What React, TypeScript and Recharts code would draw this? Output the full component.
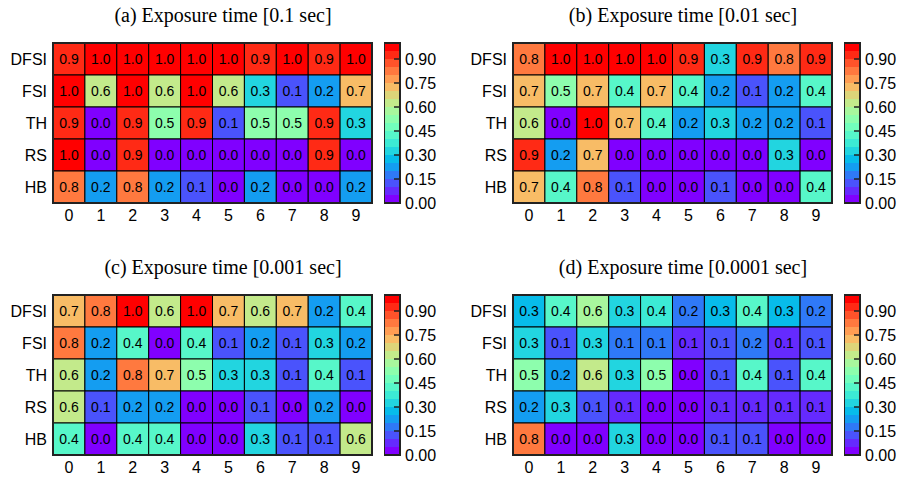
import React from "react";
import {
  ScatterChart,
  Scatter,
  BarChart,
  Bar,
  XAxis,
  YAxis,
  ReferenceArea,
} from "recharts";

const rowLabels = ["DFSI", "FSI", "TH", "RS", "HB"];
const colLabels = [0, 1, 2, 3, 4, 5, 6, 7, 8, 9];
const cbarTicks = [0, 0.15, 0.3, 0.45, 0.6, 0.75, 0.9];
const cbarEdges = [
  0, 0.05, 0.1, 0.15, 0.2, 0.25, 0.3, 0.35, 0.4, 0.45, 0.5, 0.55, 0.6, 0.65,
  0.7, 0.75, 0.8, 0.85, 0.9, 0.95, 1,
];

const titles = [
  "(a) Exposure time [0.1 sec]",
  "(b) Exposure time [0.01 sec]",
  "(c) Exposure time [0.001 sec]",
  "(d) Exposure time [0.0001 sec]",
];

// rows: DFSI, FSI, TH, RS, HB ; cols: 0..9
const valuesA = [
  [0.92, 0.97, 0.97, 0.97, 0.97, 0.97, 0.92, 0.97, 0.92, 0.97],
  [0.97, 0.62, 0.97, 0.62, 0.97, 0.62, 0.32, 0.12, 0.22, 0.72],
  [0.92, 0.02, 0.92, 0.52, 0.92, 0.12, 0.52, 0.52, 0.92, 0.32],
  [0.97, 0.02, 0.92, 0.02, 0.02, 0.02, 0.02, 0.02, 0.92, 0.02],
  [0.82, 0.22, 0.82, 0.22, 0.12, 0.02, 0.22, 0.02, 0.02, 0.22],
];
const valuesB = [
  [0.82, 0.97, 0.97, 0.97, 0.97, 0.92, 0.32, 0.92, 0.82, 0.92],
  [0.72, 0.52, 0.72, 0.42, 0.72, 0.42, 0.22, 0.12, 0.22, 0.42],
  [0.62, 0.02, 0.97, 0.72, 0.42, 0.22, 0.32, 0.22, 0.22, 0.12],
  [0.92, 0.22, 0.72, 0.02, 0.02, 0.02, 0.02, 0.02, 0.32, 0.02],
  [0.72, 0.42, 0.82, 0.12, 0.02, 0.02, 0.12, 0.02, 0.02, 0.42],
];
const valuesC = [
  [0.72, 0.82, 0.97, 0.62, 0.97, 0.72, 0.62, 0.72, 0.22, 0.42],
  [0.82, 0.22, 0.42, 0.02, 0.42, 0.12, 0.22, 0.12, 0.32, 0.22],
  [0.62, 0.22, 0.82, 0.72, 0.52, 0.32, 0.32, 0.12, 0.42, 0.12],
  [0.62, 0.12, 0.22, 0.22, 0.02, 0.02, 0.12, 0.02, 0.22, 0.02],
  [0.42, 0.02, 0.42, 0.42, 0.02, 0.02, 0.32, 0.12, 0.12, 0.62],
];
const valuesD = [
  [0.28, 0.42, 0.58, 0.32, 0.38, 0.18, 0.28, 0.42, 0.28, 0.18],
  [0.32, 0.12, 0.32, 0.15, 0.15, 0.07, 0.12, 0.18, 0.07, 0.12],
  [0.52, 0.22, 0.62, 0.32, 0.52, 0.02, 0.12, 0.42, 0.12, 0.42],
  [0.22, 0.32, 0.12, 0.07, 0.02, 0.02, 0.07, 0.07, 0.08, 0.07],
  [0.82, 0.02, 0.02, 0.32, 0.02, 0.02, 0.12, 0.12, 0.02, 0.02],
];

const SANS = '"Liberation Sans", Arial, Helvetica, sans-serif';
const SERIF = '"Liberation Serif", "Times New Roman", serif';

const HM_W = 380;
const HM_H = 230;
const HM_MARGIN = { top: 43, right: 8, bottom: 2, left: 0 };
const Y_AXIS_W = 53;
const X_AXIS_H = 25;
const PLOT_W = HM_W - HM_MARGIN.left - HM_MARGIN.right - Y_AXIS_W;
const PLOT_H = HM_H - HM_MARGIN.top - HM_MARGIN.bottom - X_AXIS_H;
const CELL_W = PLOT_W / colLabels.length;
const CELL_H = PLOT_H / rowLabels.length;
const CB_W = 66;
const CB_AXIS_W = 50;

// matplotlib "rainbow", cut into 20 levels
const NLEV = cbarEdges.length - 1;
function rainbow(t: number) {
  const cl = (v: number) => Math.max(0, Math.min(1, v));
  const r = cl(Math.abs(2 * t - 0.5));
  const g = cl(Math.sin(Math.PI * t));
  const b = cl(Math.cos((Math.PI * t) / 2));
  return `rgb(${Math.round(r * 255)},${Math.round(g * 255)},${Math.round(b * 255)})`;
}
const levelColor = (i: number) => rainbow(i / (NLEV - 1));
function valueColor(v: number) {
  const i = Math.max(0, Math.min(NLEV - 1, Math.floor(v * NLEV)));
  return levelColor(i);
}

function renderCell(props: any) {
  const { cx, cy, payload } = props;
  return (
    <g>
      <rect
        x={cx - CELL_W / 2}
        y={cy - CELL_H / 2}
        width={CELL_W}
        height={CELL_H}
        fill={valueColor(payload.v)}
        stroke="#000"
        strokeWidth={1}
      />
      <text
        x={cx}
        y={cy}
        dy="0.36em"
        textAnchor="middle"
        fontSize={14}
        fontFamily={SANS}
        fill="#000"
      >
        {payload.v.toFixed(1)}
      </text>
    </g>
  );
}

function Heatmap({ values, left, top }: { values: number[][]; left: number; top: number }) {
  const data = values.flatMap((row, r) => row.map((v, c) => ({ x: c, y: r, v })));
  const tickStyle = { fontSize: 16, fill: "#000", fontFamily: SANS };
  return (
    <div style={{ position: "absolute", left, top }}>
      <ScatterChart width={HM_W} height={HM_H} margin={HM_MARGIN}>
        <XAxis
          xAxisId="x"
          type="number"
          dataKey="x"
          domain={[-0.5, 9.5]}
          ticks={colLabels}
          interval={0}
          axisLine={false}
          tickLine={false}
          tickSize={0}
          tickMargin={7}
          height={X_AXIS_H}
          tick={tickStyle}
        />
        <YAxis
          yAxisId="y"
          type="number"
          dataKey="y"
          domain={[-0.5, 4.5]}
          reversed
          ticks={[0, 1, 2, 3, 4]}
          interval={0}
          tickFormatter={(i: number) => rowLabels[i]}
          axisLine={false}
          tickLine={false}
          tickSize={0}
          tickMargin={6}
          width={Y_AXIS_W}
          tick={tickStyle}
        />
        <Scatter
          xAxisId="x"
          yAxisId="y"
          data={data}
          shape={renderCell}
          isAnimationActive={false}
        />
        <ReferenceArea
          xAxisId="x"
          yAxisId="y"
          x1={-0.5}
          x2={9.5}
          y1={-0.5}
          y2={4.5}
          fill="none"
          fillOpacity={0}
          stroke="#222"
          strokeWidth={2}
          ifOverflow="visible"
          zIndex={2000}
        />
      </ScatterChart>
    </div>
  );
}

function CbarTick(props: any) {
  const { x, y, payload } = props;
  return (
    <g>
      <line x1={x - 11} x2={x - 5} y1={y} y2={y} stroke="#222" strokeWidth={1.5} />
      <text x={x} y={y} dy="0.36em" textAnchor="start" fontSize={16} fontFamily={SANS} fill="#000">
        {payload.value.toFixed(2)}
      </text>
    </g>
  );
}

function Colorbar({ left, top }: { left: number; top: number }) {
  const row: Record<string, any> = { name: "cb" };
  cbarEdges.slice(1).forEach((e, i) => {
    row["s" + i] = e - cbarEdges[i];
  });
  return (
    <div style={{ position: "absolute", left, top }}>
      <BarChart
        width={CB_W}
        height={HM_H}
        data={[row]}
        margin={{ top: 43, right: 0, bottom: 27, left: 0 }}
        barCategoryGap={0}
        barGap={0}
      >
        <XAxis xAxisId="x" dataKey="name" hide />
        <YAxis
          yAxisId="y"
          orientation="right"
          type="number"
          domain={[0, 1]}
          ticks={cbarTicks}
          interval={0}
          axisLine={false}
          tickLine={false}
          tickSize={0}
          tickMargin={5}
          width={CB_AXIS_W}
          tick={<CbarTick />}
        />
        {cbarEdges.slice(1).map((_, i) => (
          <Bar
            key={i}
            xAxisId="x"
            yAxisId="y"
            dataKey={"s" + i}
            stackId="cb"
            fill={levelColor(i)}
            isAnimationActive={false}
          />
        ))}
        <ReferenceArea
          xAxisId="x"
          yAxisId="y"
          x1="cb"
          x2="cb"
          y1={0}
          y2={1}
          fill="none"
          fillOpacity={0}
          stroke="#222"
          strokeWidth={2}
          ifOverflow="visible"
          zIndex={2000}
        />
      </BarChart>
    </div>
  );
}

function Title({ text, left, top }: { text: string; left: number; top: number }) {
  return (
    <div
      style={{
        position: "absolute",
        left,
        top,
        width: 440,
        height: 24,
        lineHeight: "24px",
        textAlign: "center",
        fontFamily: SERIF,
        fontSize: 20,
        color: "#000",
        whiteSpace: "nowrap",
      }}
    >
      {text}
    </div>
  );
}

const panels = [
  { values: valuesA, dx: 0, dy: 0 },
  { values: valuesB, dx: 460, dy: 0 },
  { values: valuesC, dx: 0, dy: 252 },
  { values: valuesD, dx: 460, dy: 252 },
];

export default function App() {
  return (
    <div
      style={{
        position: "absolute",
        left: 0,
        top: 0,
        width: 902,
        height: 479,
        background: "#fff",
        overflow: "hidden",
      }}
    >
      {panels.map((p, i) => (
        <React.Fragment key={i}>
          <Title text={titles[i]} left={p.dx + 3} top={p.dy + 3} />
          <Heatmap values={p.values} left={p.dx} top={p.dy} />
          <Colorbar left={p.dx + 384} top={p.dy} />
        </React.Fragment>
      ))}
    </div>
  );
}
